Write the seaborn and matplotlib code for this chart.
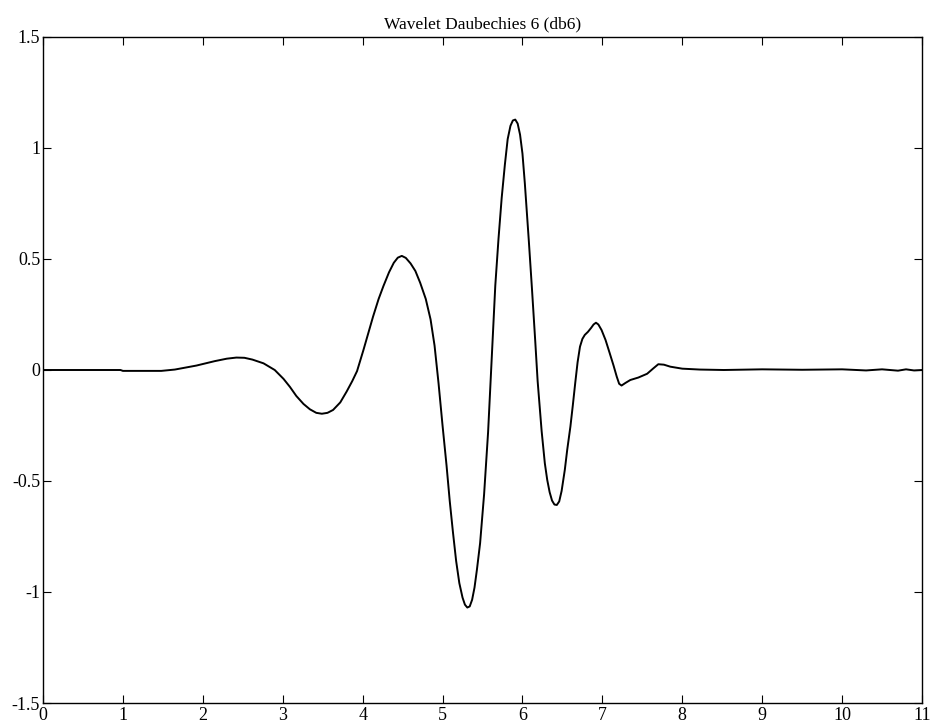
import pandas as pd
import matplotlib.pyplot as plt
import seaborn as sns

# values (db6 wavelet psi)
t = [0.00, 0.97, 1.00, 1.48, 1.65, 1.92, 2.15, 2.30, 2.42, 2.52, 2.62,
     2.76, 2.90, 3.01, 3.09, 3.17, 3.26, 3.34, 3.42, 3.49, 3.56, 3.63,
     3.72, 3.80, 3.87, 3.93, 4.01, 4.07, 4.13, 4.20, 4.26, 4.33, 4.39,
     4.44, 4.49, 4.54, 4.60, 4.66, 4.72, 4.79, 4.85, 4.90, 4.95, 5.00,
     5.05, 5.09, 5.13, 5.17, 5.21, 5.25, 5.28, 5.31, 5.34, 5.37, 5.40,
     5.43, 5.47, 5.52, 5.57, 5.63, 5.66, 5.70, 5.74, 5.78, 5.815, 5.85,
     5.88, 5.91, 5.94, 5.97, 6.00, 6.03, 6.08, 6.12, 6.16, 6.19, 6.24,
     6.28, 6.31, 6.34, 6.37, 6.40, 6.43, 6.46, 6.49, 6.53, 6.56, 6.60,
     6.63, 6.66, 6.69, 6.72, 6.75, 6.78, 6.82, 6.86, 6.89, 6.92, 6.95,
     6.99, 7.04, 7.09, 7.14, 7.18, 7.21, 7.24, 7.29, 7.35, 7.45, 7.56,
     7.64, 7.70, 7.77, 7.85, 8.00, 8.22, 8.52, 9.00, 9.50, 10.00, 10.30,
     10.50, 10.70, 10.80, 10.90, 11.00]
psi = [0.000, 0.000, -0.004, -0.004, 0.002, 0.020, 0.040, 0.051, 0.056,
       0.055, 0.047, 0.030, 0.000, -0.040, -0.076, -0.117, -0.153,
       -0.177, -0.193, -0.197, -0.193, -0.180, -0.146, -0.097, -0.050,
       -0.005, 0.090, 0.165, 0.240, 0.320, 0.378, 0.440, 0.483, 0.506,
       0.514, 0.505, 0.480, 0.446, 0.393, 0.320, 0.228, 0.110, -0.060,
       -0.250, -0.430, -0.590, -0.730, -0.860, -0.960, -1.025, -1.057,
       -1.070, -1.065, -1.035, -0.980, -0.900, -0.780, -0.560, -0.280,
       0.160, 0.380, 0.590, 0.775, 0.925, 1.040, 1.100, 1.124, 1.128,
       1.110, 1.060, 0.975, 0.840, 0.580, 0.360, 0.130, -0.050, -0.275,
       -0.420, -0.495, -0.550, -0.588, -0.606, -0.608, -0.592, -0.545,
       -0.450, -0.360, -0.255, -0.160, -0.060, 0.035, 0.105, 0.140,
       0.158, 0.172, 0.190, 0.205, 0.213, 0.205, 0.180, 0.135, 0.078,
       0.020, -0.030, -0.062, -0.070, -0.058, -0.045, -0.034, -0.017,
       0.008, 0.026, 0.024, 0.015, 0.006, 0.002, 0.000, 0.003, 0.001,
       0.003, -0.002, 0.003, -0.003, 0.003, -0.002, 0.000]

x_ticks = list(range(0, 12))
y_ticks = [-1.5, -1, -0.5, 0, 0.5, 1, 1.5]
y_tick_labels = ['-1.5', '-1', '-0.5', '0', '0.5', '1', '1.5']

wave = pd.DataFrame({'t': t, 'psi': psi})

sns.set_theme(style="white")
plt.rcParams['font.family'] = ['Liberation Serif', 'DejaVu Serif']
plt.rcParams['axes.unicode_minus'] = False

fig = plt.figure(figsize=(9.31, 7.26), dpi=100)
ax = fig.add_axes([43/931, 23/726, 879/931, 666/726])

sns.lineplot(data=wave, x='t', y='psi', sort=False, color='black', linewidth=1.4, ax=ax)

ax.set_xlim(0, 11)
ax.set_ylim(-1.5, 1.5)
ax.set_xticks(x_ticks)
ax.set_xticklabels([str(v) for v in x_ticks])
ax.set_yticks(y_ticks)
ax.set_yticklabels(y_tick_labels)
ax.tick_params(direction='in', length=6, width=0.8, color='black',
               top=True, right=True, bottom=True, left=True,
               labelsize=13, labelcolor='black')
ax.tick_params(axis='x', pad=3)
ax.tick_params(axis='y', pad=2)
for s in ax.spines.values():
    s.set_color('black')
    s.set_linewidth(1.0)
ax.set_xlabel('')
ax.set_ylabel('')
ax.set_title('Wavelet Daubechies 6 (db6)', fontsize=12.5, pad=6, color='black')

fig.savefig('out.png', dpi=100)
